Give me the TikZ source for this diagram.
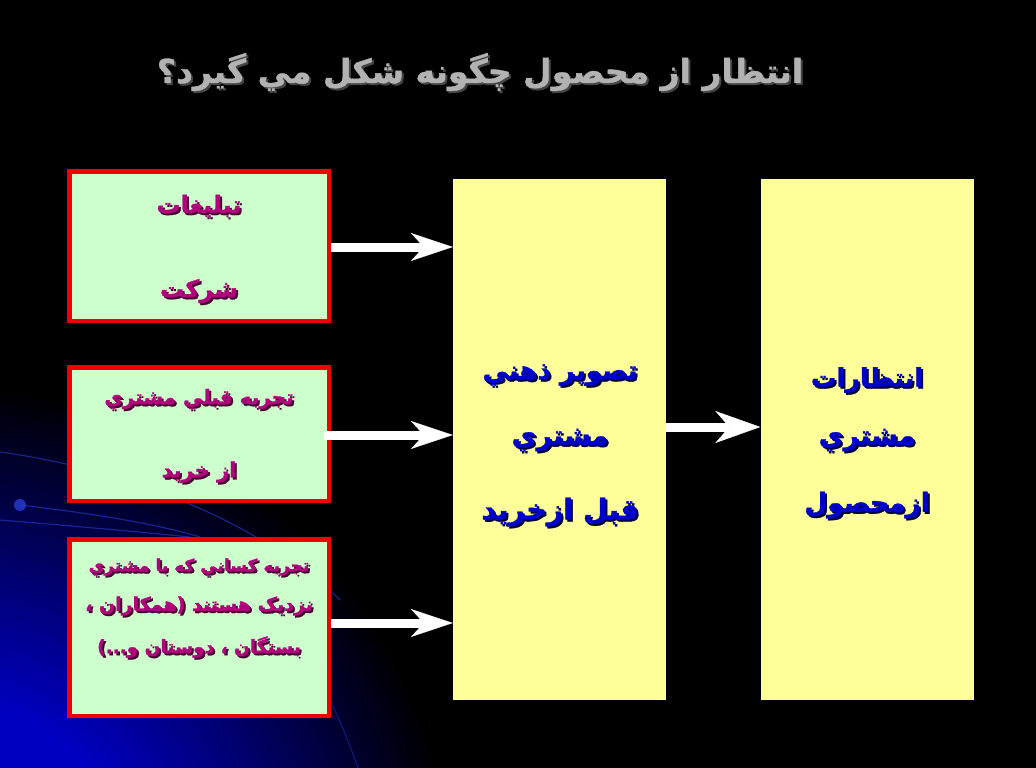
\documentclass[tikz,border=0pt]{standalone}
\usepackage{fontspec}
\newfontfamily\af[Script=Arabic, BoldFeatures={FakeBold=1.2}]{DejaVu Sans}
\TeXXeTstate=1
\usetikzlibrary{arrows.meta}
\definecolor{greenfill}{RGB}{204,255,204}
\definecolor{yellowfill}{RGB}{255,255,153}
\definecolor{redline}{RGB}{240,0,0}
\definecolor{magtext}{RGB}{180,0,125}
\definecolor{magshadow}{RGB}{70,0,50}
\definecolor{bluetext}{RGB}{0,0,205}
\definecolor{blueshadow}{RGB}{0,0,60}
\definecolor{titletext}{RGB}{178,178,178}
\definecolor{titleshadow}{RGB}{70,70,70}
\definecolor{glowA}{RGB}{0,0,195}
\definecolor{arcblue}{RGB}{40,60,210}
\newcommand\artext[5]{%
  \node[#3, text=#4] at ([shift={(2pt,-2pt)}]#2) {\beginR #5\endR};
  \node[#3] (#1) at (#2) {\beginR #5\endR};}
\tikzset{
  greenbox/.style={draw=redline, line width=4.5pt, fill=greenfill, minimum width=259.5pt, inner sep=0pt},
  yellowbox/.style={fill=yellowfill, minimum width=213pt, minimum height=521pt, inner sep=0pt},
  greentxt/.style={text=magtext, inner sep=0pt, font=\af\bfseries\fontsize{#1}{#1}\selectfont},
  yellowtxt/.style={text=bluetext, inner sep=0pt, font=\af\bfseries\fontsize{#1}{#1}\selectfont},
  titletxt/.style={text=titletext, inner sep=0pt, font=\af\bfseries\fontsize{33}{38}\selectfont},
  arr/.style={draw=white, line width=9pt, -{Stealth[length=42pt,width=28pt,inset=13pt,line width=0.4pt]}},
  bigarr/.style={draw=white, line width=9pt, -{Stealth[length=45pt,width=32pt,inset=14pt,line width=0.4pt]}},
  arcline/.style={draw=arcblue, line width=1.2pt, opacity=0.6}
}
\begin{document}
\begin{tikzpicture}[x=1pt,y=-1pt]
\useasboundingbox (0,0) rectangle (1036,768);
\fill[black] (0,0) rectangle (1036,768);
\begin{scope}
\clip (0,0) rectangle (1036,768);
\foreach \r in {520,510,...,200}{
  \pgfmathsetmacro\p{(520-\r)/3.2}
  \fill[glowA!\p!black] (-60,900) circle (\r);
}
\draw[arcline] (0,452) .. controls (120,468) and (260,520) .. (340,600);
\draw[arcline] (20,505) .. controls (80,512) and (150,522) .. (200,537);
\draw[arcline] (0,520) .. controls (60,525) and (120,530) .. (190,537);
\draw[arcline, opacity=0.4] (330,700) .. controls (340,720) and (350,745) .. (358,768);
\fill[arcblue, opacity=0.8] (20,505) circle (6);
\end{scope}

% boxes
\node[greenbox, minimum height=149.5pt] (g1) at (199,246) {};
\node[greenbox, minimum height=133.5pt] (g2) at (199,434) {};
\node[greenbox, minimum height=176.5pt] (g3) at (199,627.5) {};
\node[yellowbox] (y1) at (559.5,439.5) {};
\node[yellowbox] (y2) at (867,439.5) {};

% title
\artext{title}{480,72}{titletxt}{titleshadow}{انتظار از محصول چگونه شکل مي گيرد؟}

% green texts
\artext{g1a}{199,206}{greentxt=24}{magshadow}{تبليغات}
\artext{g1b}{199,291}{greentxt=24}{magshadow}{شرکت}
\artext{g2a}{199,399}{greentxt=20}{magshadow}{تجربه قبلي مشتري}
\artext{g2b}{199,472}{greentxt=21}{magshadow}{از خريد}
\artext{g3a}{199,567}{greentxt=17}{magshadow}{تجربه کساني که با مشتري}
\artext{g3b}{199,606}{greentxt=19}{magshadow}{نزديک هستند \beginL(\endL همکاران ،}
\artext{g3c}{199,647}{greentxt=18.5}{magshadow}{بستگان ، دوستان و...\beginL)\endL}

% yellow texts
\artext{y1a}{560,375}{yellowtxt=26}{blueshadow}{تصوير ذهني}
\artext{y1b}{560,440}{yellowtxt=27}{blueshadow}{مشتري}
\artext{y1c}{560,512}{yellowtxt=28.5}{blueshadow}{قبل ازخريد}
\artext{y2a}{867,380}{yellowtxt=25.5}{blueshadow}{انتظارات}
\artext{y2b}{867,440}{yellowtxt=27}{blueshadow}{مشتري}
\artext{y2c}{867,505}{yellowtxt=26.5}{blueshadow}{ازمحصول}

% arrows
\draw[arr] ([yshift=-1pt]g1.east) -- ([yshift=-1pt]g1.east -| y1.west);
\draw[arr] ([yshift=-1pt,xshift=-7pt]g2.east) -- ([yshift=-1pt]g2.east -| y1.west);
\draw[arr] ([yshift=4.5pt]g3.east) -- ([yshift=4.5pt]g3.east -| y1.west);
\draw[bigarr] ([yshift=12.5pt]y1.east) -- ([yshift=12.5pt]y1.east -| y2.west);
\end{tikzpicture}
\end{document}
